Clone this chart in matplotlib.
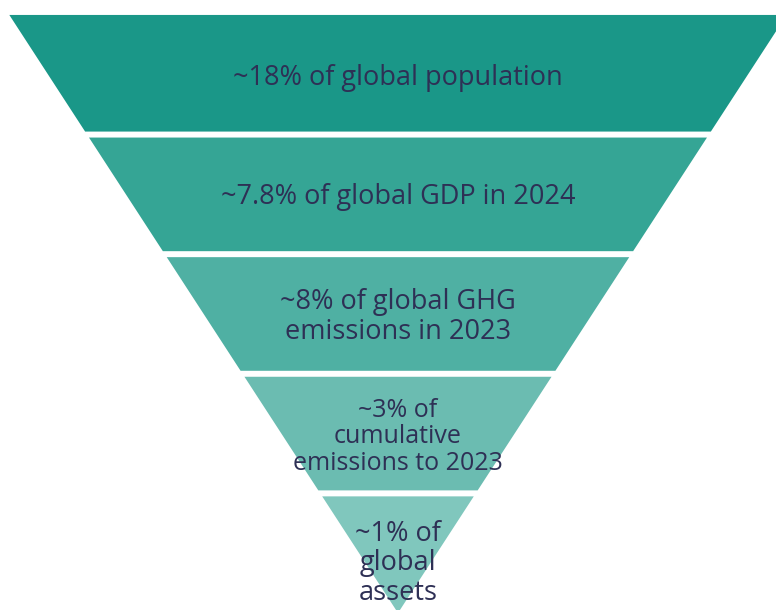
import matplotlib.pyplot as plt
from matplotlib.patches import Polygon

# Funnel content, top to bottom
labels = [
    "~18% of global population",
    "~7.8% of global GDP in 2024",
    "~8% of global GHG\nemissions in 2023",
    "~3% of\ncumulative\nemissions to 2023",
    "~1% of\nglobal\nassets",
]
colors = ["#1a9788", "#35a595", "#4fb0a3", "#6bbcb1", "#80c7bd"]
text_color = "#2e3055"
font_sizes = [19.5, 19.5, 19.5, 18, 19.5]

n = len(labels)
half_top = 3.25   # half width of the funnel at its top (apex at 0,0)
gap = 0.05        # white gap between bands

fig = plt.figure(figsize=(7.76, 6.10), dpi=100)
ax = fig.add_axes([0, 0, 1, 1])
ax.set_xlim(-3.328, 3.161)
ax.set_ylim(0.025, 5.125)
ax.axis("off")

for i, (lab, col, fs) in enumerate(zip(labels, colors, font_sizes)):
    top = n - i - (gap / 2 if i > 0 else 0)
    bot = max(n - i - 1 + gap / 2, 0) if i < n - 1 else 0
    wt = half_top * top / n
    wb = half_top * bot / n
    ax.add_patch(Polygon([(-wt, top), (wt, top), (wb, bot), (-wb, bot)],
                         closed=True, facecolor=col, edgecolor="none"))
    yc = (n - i - 0.525) if i < n - 1 else 0.415
    ax.text(0, yc, lab, ha="center", va="center", fontsize=fs,
            family=["Open Sans", "DejaVu Sans"], color=text_color,
            linespacing=1.08)

fig.savefig("out.png", dpi=100)
